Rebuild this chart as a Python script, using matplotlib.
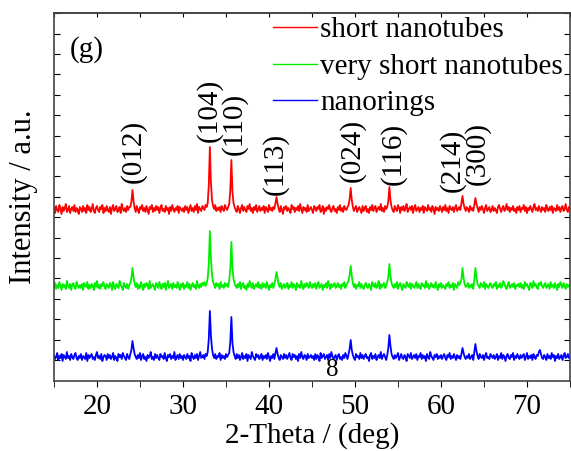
import matplotlib
matplotlib.use("Agg")
import matplotlib.pyplot as plt
import numpy as np

# scan grid: 15..75 deg, 0.125 deg step
two_theta = np.arange(15.0, 75.001, 0.125)

# intensities (a.u.), baseline ~20, 3 deg per row
short_nanotubes = [
    22, 17, 24, 20, 18, 25, 21, 16, 23, 19, 22, 26, 18, 20, 24, 17, 21, 23, 19, 25, 18, 22, 20, 16,
    23, 21, 18, 24, 19, 22, 17, 25, 20, 23, 18, 21, 26, 19, 17, 22, 24, 20, 18, 23, 21, 25, 17, 22,
    19, 24, 20, 18, 23, 16, 22, 25, 19, 21, 24, 18, 20, 23, 17, 26, 21, 19, 22, 18, 24, 20, 23, 23,
    28, 40, 29, 22, 18, 24, 20, 17, 23, 21, 25, 19, 22, 18, 24, 20, 16, 23, 21, 25, 18, 22, 19, 24,
    20, 23, 17, 22, 25, 19, 21, 18, 24, 20, 22, 16, 23, 19, 25, 21, 18, 22, 20, 24, 17, 23, 21, 19,
    22, 18, 24, 20, 23, 17, 21, 25, 19, 22, 18, 24, 20, 26, 17, 23, 21, 19, 24, 22, 20, 25, 23, 27,
    45, 83, 47, 30, 24, 21, 25, 19, 22, 20, 23, 18, 24, 21, 19, 25, 22, 20, 23, 26, 40, 70, 38, 27,
    23, 20, 18, 24, 21, 17, 22, 25, 19, 23, 20, 18, 24, 21, 26, 19, 22, 17, 23, 20, 25, 18, 21, 24,
    19, 22, 20, 24, 17, 23, 21, 18, 25, 20, 22, 19, 23, 21, 27, 33, 26, 21, 18, 24, 20, 16, 23, 21,
    24, 19, 22, 20, 17, 25, 21, 23, 18, 22, 20, 24, 19, 26, 21, 17, 23, 20, 22, 18, 25, 19, 21, 23,
    20, 17, 24, 22, 19, 23, 21, 25, 18, 20, 24, 16, 22, 19, 23, 21, 25, 20, 18, 22, 24, 19, 21, 17,
    23, 20, 25, 19, 22, 18, 24, 21, 20, 23, 25, 31, 42, 30, 23, 19, 22, 24, 18, 21, 23, 20, 17, 24,
    19, 22, 24, 18, 21, 17, 23, 20, 25, 19, 22, 24, 18, 21, 23, 20, 26, 19, 22, 18, 24, 21, 23, 29,
    43, 30, 23, 20, 18, 24, 21, 19, 25, 22, 17, 23, 20, 24, 19, 22, 26, 18, 21, 23, 20, 24, 17, 22,
    25, 19, 21, 23, 18, 22, 20, 24, 17, 23, 21, 19, 25, 20, 22, 18, 24, 21, 16, 23, 20, 22, 19, 24,
    21, 18, 23, 20, 25, 19, 22, 17, 24, 21, 20, 23, 18, 22, 25, 19, 21, 23, 20, 27, 34, 26, 22, 19,
    23, 21, 18, 24, 20, 22, 19, 25, 32, 26, 22, 18, 23, 20, 24, 21, 17, 22, 25, 19, 21, 23, 18, 20,
    24, 19, 22, 20, 17, 23, 25, 21, 18, 22, 24, 19, 21, 26, 20, 23, 18, 22, 20, 24, 19, 21, 17, 23,
    20, 24, 18, 22, 21, 25, 19, 23, 17, 22, 20, 24, 21, 18, 23, 26, 20, 22, 19, 24, 21, 18, 23, 20,
    22, 18, 25, 21, 19, 23, 20, 24, 17, 22, 21, 19, 25, 20, 23, 18, 22, 24, 19, 21, 26, 20, 18, 23,
    21,
]
very_short_nanotubes = [
    20, 24, 18, 22, 19, 25, 21, 17, 23, 20, 22, 18, 26, 21, 19, 23, 17, 22, 24, 20, 18, 25, 21, 19,
    22, 19, 23, 17, 24, 21, 20, 25, 18, 22, 19, 23, 21, 17, 24, 20, 26, 19, 22, 18, 23, 21, 25, 20,
    18, 23, 21, 19, 24, 22, 17, 25, 20, 18, 23, 21, 19, 26, 22, 20, 17, 24, 21, 19, 23, 18, 22, 24,
    29, 39, 30, 23, 20, 24, 18, 22, 19, 25, 21, 17, 23, 20, 24, 22, 18, 26, 19, 21, 23, 20, 17, 24,
    22, 19, 25, 21, 18, 23, 20, 24, 17, 22, 26, 19, 21, 23, 18, 24, 20, 22, 19, 25, 21, 17, 23, 20,
    24, 18, 22, 20, 25, 19, 23, 17, 21, 24, 20, 22, 18, 26, 21, 19, 23, 20, 24, 22, 25, 21, 24, 29,
    43, 76, 48, 32, 25, 22, 19, 24, 21, 23, 18, 25, 20, 22, 19, 24, 21, 23, 20, 27, 38, 65, 39, 28,
    24, 21, 19, 23, 20, 25, 18, 22, 24, 19, 21, 17, 23, 20, 26, 22, 19, 24, 18, 21, 23, 20, 25, 19,
    22, 18, 24, 20, 23, 19, 25, 21, 17, 22, 20, 24, 19, 23, 28, 35, 29, 22, 20, 24, 18, 21, 23, 19,
    21, 24, 18, 22, 20, 25, 19, 23, 21, 17, 24, 20, 22, 19, 26, 21, 18, 23, 20, 24, 22, 19, 25, 21,
    19, 23, 20, 24, 18, 22, 25, 19, 21, 23, 17, 22, 20, 24, 19, 26, 21, 18, 23, 20, 22, 24, 19, 21,
    24, 20, 22, 18, 23, 21, 25, 19, 22, 24, 26, 32, 41, 31, 24, 20, 23, 18, 22, 21, 25, 19, 23, 20,
    18, 22, 24, 20, 19, 23, 21, 17, 25, 22, 20, 24, 19, 21, 26, 18, 23, 20, 22, 24, 19, 21, 25, 30,
    43, 31, 24, 21, 19, 23, 20, 25, 18, 22, 24, 20, 17, 23, 21, 19, 25, 22, 20, 24, 18, 23, 21, 19,
    22, 25, 19, 23, 20, 18, 24, 21, 22, 19, 26, 20, 23, 18, 21, 24, 20, 22, 19, 25, 21, 17, 23, 20,
    24, 19, 22, 20, 18, 23, 21, 25, 19, 22, 20, 24, 17, 23, 21, 19, 25, 22, 24, 28, 39, 29, 23, 20,
    21, 24, 19, 22, 20, 23, 18, 27, 39, 30, 23, 21, 19, 24, 22, 20, 25, 18, 23, 21, 19, 22, 24, 20,
    19, 23, 21, 25, 18, 22, 20, 24, 19, 21, 26, 23, 20, 18, 22, 25, 19, 21, 23, 20, 24, 18, 22, 21,
    23, 20, 24, 19, 22, 18, 25, 21, 23, 20, 17, 24, 22, 19, 26, 21, 23, 20, 18, 24, 22, 25, 21, 19,
    22, 24, 19, 21, 23, 18, 25, 20, 22, 19, 24, 21, 17, 23, 20, 25, 22, 19, 24, 21, 18, 23, 20, 22,
    21,
]
nanorings = [
    23, 19, 21, 25, 18, 22, 20, 24, 17, 23, 21, 19, 26, 20, 22, 18, 24, 21, 19, 23, 25, 20, 18, 22,
    20, 24, 18, 22, 21, 19, 25, 17, 23, 20, 22, 24, 19, 21, 18, 23, 26, 20, 22, 19, 24, 17, 21, 23,
    22, 18, 24, 20, 23, 19, 21, 25, 18, 22, 20, 17, 24, 21, 23, 19, 25, 22, 20, 18, 24, 21, 19, 24,
    28, 37, 30, 24, 21, 19, 23, 20, 25, 18, 22, 24, 19, 21, 17, 23, 20, 22, 26, 19, 21, 18, 24, 20,
    23, 20, 18, 24, 21, 22, 19, 25, 20, 17, 23, 21, 24, 19, 22, 20, 26, 18, 21, 23, 19, 24, 20, 22,
    18, 23, 21, 19, 24, 20, 22, 17, 25, 21, 19, 23, 20, 24, 18, 22, 26, 20, 21, 23, 19, 24, 22, 26,
    39, 67, 42, 29, 23, 20, 24, 19, 22, 21, 25, 18, 23, 20, 22, 19, 24, 21, 23, 25, 36, 61, 35, 26,
    22, 19, 24, 20, 23, 18, 21, 25, 19, 22, 20, 24, 17, 23, 21, 19, 26, 22, 20, 18, 24, 21, 23, 19,
    21, 24, 18, 22, 20, 23, 19, 25, 21, 17, 22, 20, 24, 19, 25, 30, 24, 20, 18, 23, 21, 19, 24, 20,
    23, 19, 22, 25, 20, 18, 24, 21, 23, 19, 22, 17, 24, 20, 26, 21, 19, 23, 22, 18, 24, 20, 21, 23,
    20, 22, 18, 24, 19, 23, 21, 17, 25, 20, 22, 24, 19, 21, 23, 18, 24, 20, 26, 22, 19, 21, 23, 18,
    22, 24, 19, 21, 18, 23, 20, 25, 22, 19, 24, 29, 38, 28, 23, 20, 18, 24, 21, 22, 19, 25, 20, 23,
    19, 22, 24, 20, 21, 17, 23, 25, 19, 22, 20, 24, 18, 21, 23, 20, 26, 19, 22, 24, 21, 18, 23, 30,
    43, 32, 24, 21, 19, 23, 20, 22, 25, 18, 21, 24, 20, 19, 23, 21, 17, 24, 22, 20, 25, 19, 21, 23,
    20, 24, 18, 22, 21, 25, 19, 23, 20, 22, 17, 24, 21, 19, 26, 22, 20, 18, 23, 21, 24, 19, 22, 20,
    23, 19, 22, 24, 20, 18, 23, 21, 25, 19, 22, 20, 24, 21, 18, 23, 20, 22, 19, 24, 30, 25, 21, 19,
    22, 20, 24, 19, 21, 23, 18, 26, 34, 27, 22, 19, 24, 21, 20, 23, 18, 22, 25, 20, 21, 19, 24, 22,
    20, 23, 19, 21, 24, 18, 22, 20, 25, 19, 23, 21, 17, 22, 24, 20, 19, 23, 21, 25, 18, 22, 20, 24,
    21, 19, 23, 20, 22, 24, 18, 21, 25, 19, 22, 20, 23, 18, 24, 21, 19, 23, 22, 26, 28, 24, 20, 19,
    23, 21, 18, 24, 20, 22, 19, 25, 21, 23, 17, 22, 20, 24, 19, 21, 23, 18, 22, 25, 20, 21, 24, 20,
    22,
]

series_labels = ["short nanotubes", "very short nanotubes", "nanorings"]
series_colors = ["#ff0000", "#00ee00", "#0000ff"]
offsets = [151, 74, 3]

# reflection labels
hkl = ["(012)", "(104)", "(110)", "(113)", "(024)", "(116)", "(214)", "(300)"]
hkl_x = [24.2, 33.1, 36.0, 40.7, 49.7, 54.4, 61.3, 64.2]
hkl_y = [198, 239, 226, 186, 199, 196, 189, 196]

plt.rcParams['font.family'] = ['Liberation Serif', 'DejaVu Serif']

fig = plt.figure(figsize=(5.71, 4.51), dpi=100)
ax = fig.add_axes([54 / 571, 70 / 451, 516 / 571, 368 / 451])

for vals, lab, col, off in zip([short_nanotubes, very_short_nanotubes, nanorings],
                               series_labels, series_colors, offsets):
    ax.plot(two_theta, np.array(vals) + off, color=col, lw=1.3, label=lab)

for t, x, y in zip(hkl, hkl_x, hkl_y):
    ax.text(x, y, t, rotation=90, ha='center', va='bottom', fontsize=21)

ax.text(0.03, 0.90, "(g)", transform=ax.transAxes, fontsize=21, va='center')
ax.text(47.4, 11, "8", ha='center', va='center', fontsize=18)

ax.set_xlim(15, 75)
ax.set_ylim(0, 368)
ax.set_xticks([20, 30, 40, 50, 60, 70])
ax.set_xticks([15, 25, 35, 45, 55, 65, 75], minor=True)
ax.set_yticks(np.arange(21, 368, 20.4))
ax.set_yticklabels([])
ax.tick_params(axis='x', which='both', direction='out', length=4, labelsize=21,
               top=False, pad=5)
ax.tick_params(axis='y', which='both', direction='in', length=4, right=True)
sec = ax.secondary_xaxis('top')
sec.set_xticks([15, 20, 25, 30, 35, 40, 45, 50, 55, 60, 65, 70, 75])
sec.tick_params(direction='in', length=3, labeltop=False)
for s in list(ax.spines.values()) + [sec.spines['top']]:
    s.set_color('#444444')
    s.set_linewidth(1.2)

ax.set_xlabel("2-Theta / (deg)", fontsize=21, labelpad=2)
ax.set_ylabel("Intensity / a.u.", fontsize=22, labelpad=8)

leg = ax.legend(loc='upper left', bbox_to_anchor=(0.425, 0.99), frameon=False,
                fontsize=21, handlelength=1.5, handletextpad=0.1, labelspacing=0.35,
                borderpad=0, borderaxespad=0)
for line in leg.get_lines():
    line.set_linewidth(1.0)

plt.savefig('out.png', dpi=100)
